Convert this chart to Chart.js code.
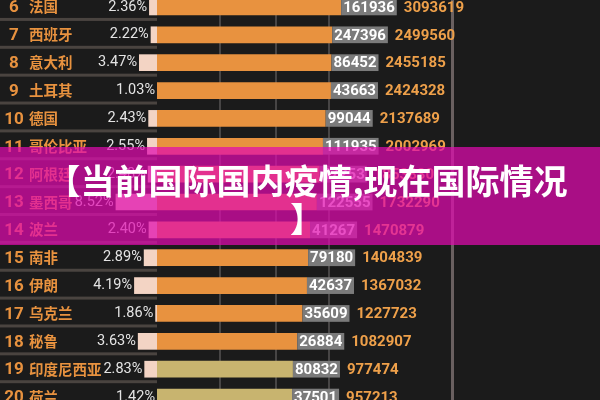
<!DOCTYPE html>
<html>
<head>
<meta charset="utf-8">
<script src="https://cdn.jsdelivr.net/npm/chart.js@4.4.0/dist/chart.umd.min.js"></script>
<style>
html, body { margin: 0; padding: 0; background: #1b1b1b; }
#wrap { position: relative; width: 600px; height: 400px; overflow: hidden; background: #1b1b1b; }
#leftBox { position: absolute; left: 0; top: -7px; width: 157px; height: 418px; }
#rightBox { position: absolute; left: 157px; top: -7px; width: 443px; height: 418px; }
#banner {
    position: absolute; left: 0; top: 147px; width: 600px; height: 98px;
    box-sizing: border-box; padding-top: 14px; padding-left: 14px;
    background: rgba(225, 10, 175, 0.72);
    color: #fff; text-align: center;
    font: bold 34px "Noto Sans CJK SC", sans-serif; line-height: 38px;
}
</style>
</head>
<body>
<div id="wrap">
    <div id="leftBox"><canvas id="leftChart"></canvas></div>
    <div id="rightBox"><canvas id="rightChart"></canvas></div>
    <div id="banner">【当前国际国内疫情,现在国际情况<br>】</div>
</div>
<script>
var ranks = [6, 7, 8, 9, 10, 11, 12, 13, 14, 15, 16, 17, 18, 19, 20];
var countries = ['法国', '西班牙', '意大利', '土耳其', '德国', '哥伦比亚', '阿根廷', '墨西哥', '波兰', '南非', '伊朗', '乌克兰', '秘鲁', '印度尼西亚', '荷兰'];
var rates = [2.36, 2.22, 3.47, 1.03, 2.43, 2.55, 2.48, 8.52, 2.40, 2.89, 4.19, 1.86, 3.63, 2.83, 1.42];
var deaths = [161936, 247396, 86452, 43663, 99044, 111935, 47253, 122555, 41267, 79180, 42637, 35609, 26884, 80832, 37501];
var totals = [3093619, 2499560, 2455185, 2424328, 2137689, 2002969, 1853830, 1732290, 1470879, 1404839, 1367032, 1227723, 1082907, 977474, 957213];
var gridTicks = [170000, 650000, 2300000, 44000000];

var orange = '#e8923f';
var khaki = '#c8b46f';

// rank, country name and percent text on the left side
var leftLabels = {
    id: 'leftLabels',
    beforeDatasetsDraw: function(chart) {
        var ctx = chart.ctx, y = chart.scales.y;
        ctx.save();
        ctx.fillStyle = '#4a4440';
        ranks.forEach(function(r, i) {
            ctx.fillRect(0, y.getPixelForValue(i) + 11, chart.width, 3);
        });
        ctx.restore();
    },
    afterDatasetsDraw: function(chart) {
        var ctx = chart.ctx, y = chart.scales.y, meta = chart.getDatasetMeta(0);
        ctx.save();
        ctx.textBaseline = 'middle';
        ranks.forEach(function(r, i) {
            var cy = y.getPixelForValue(i);
            ctx.fillStyle = orange;
            ctx.font = 'bold 17px Roboto, sans-serif';
            ctx.textAlign = 'center';
            ctx.fillText(r, 14, cy + 1);
            ctx.font = 'bold 14.5px "Noto Sans CJK SC", sans-serif';
            ctx.textAlign = 'left';
            ctx.fillText(countries[i], 29, cy);
            var bar = meta.data[i];
            var x = Math.min(bar.x, bar.base);
            ctx.font = '14.5px Roboto, sans-serif';
            ctx.fillStyle = '#e4e4e4';
            ctx.textAlign = 'right';
            ctx.fillText(rates[i].toFixed(2) + '%', x - 2, cy);
        });
        ctx.restore();
    }
};

// grid lines, grey value box and total on the right side
var rightLabels = {
    id: 'rightLabels',
    beforeDatasetsDraw: function(chart) {
        var ctx = chart.ctx, x = chart.scales.x;
        ctx.save();
        gridTicks.forEach(function(v, i) {
            var px = Math.round(x.getPixelForValue(v));
            ctx.fillStyle = i === gridTicks.length - 1 ? '#6a6060' : '#474545';
            ctx.fillRect(px - 1, 0, i === gridTicks.length - 1 ? 3 : 2, chart.height);
        });
        ctx.restore();
    },
    afterDatasetsDraw: function(chart) {
        var ctx = chart.ctx, y = chart.scales.y, meta = chart.getDatasetMeta(0);
        ctx.save();
        ctx.textBaseline = 'middle';
        totals.forEach(function(t, i) {
            var bar = meta.data[i];
            var cy = y.getPixelForValue(i);
            var h = bar.height;
            ctx.font = 'bold 15px Roboto, sans-serif';
            var txt = String(deaths[i]);
            var w = ctx.measureText(txt).width + 4;
            ctx.fillStyle = '#7b7b7b';
            ctx.fillRect(bar.x, cy - h / 2, w, h);
            ctx.fillStyle = '#ffffff';
            ctx.textAlign = 'left';
            ctx.fillText(txt, bar.x + 2, cy + 1);
            ctx.fillStyle = '#eea04a';
            ctx.fillText(String(t), bar.x + w + 7, cy + 1);
        });
        ctx.restore();
    }
};

var leftChart = new Chart(document.getElementById('leftChart').getContext('2d'), {
    type: 'bar',
    data: {
        labels: countries,
        datasets: [{
            data: rates,
            backgroundColor: '#f3d4c4',
            barPercentage: 0.6,
            categoryPercentage: 1
        }]
    },
    options: {
        indexAxis: 'y',
        responsive: true,
        maintainAspectRatio: false,
        animation: false,
        plugins: {
            legend: { display: false },
            tooltip: { enabled: false }
        },
        scales: {
            x: { type: 'logarithmic', reverse: true, min: 1.74, max: 720, display: false },
            y: { display: false }
        }
    },
    plugins: [leftLabels]
});

var rightChart = new Chart(document.getElementById('rightChart').getContext('2d'), {
    type: 'bar',
    data: {
        labels: countries,
        datasets: [{
            data: totals,
            backgroundColor: totals.map(function(v, i) { return i >= 13 ? khaki : orange; }),
            barPercentage: 0.6,
            categoryPercentage: 1
        }]
    },
    options: {
        indexAxis: 'y',
        responsive: true,
        maintainAspectRatio: false,
        animation: false,
        plugins: {
            legend: { display: false },
            tooltip: { enabled: false }
        },
        scales: {
            x: { type: 'logarithmic', min: 38000, max: 1.5e9, display: false },
            y: { display: false }
        }
    },
    plugins: [rightLabels]
});
</script>
</body>
</html>
